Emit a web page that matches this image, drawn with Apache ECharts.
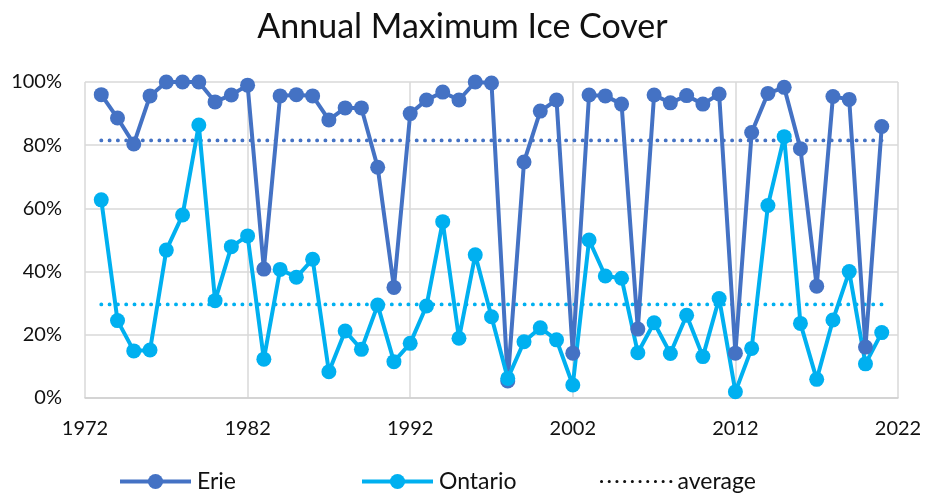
<!DOCTYPE html>
<html>
<head>
<meta charset="utf-8">
<script src="https://cdn.jsdelivr.net/npm/echarts@6/dist/echarts.min.js"></script>
<style>
  html, body { margin: 0; padding: 0; background: #fff; }
  #chart { width: 925px; height: 493px; }
</style>
</head>
<body>
<div id="chart"></div>
<script>
// Annual maximum ice cover (% of lake surface), 1973–2021
const years = [];
for (let y = 1973; y <= 2021; y++) years.push(y);

const erie = [
  96, 88.6, 80.4, 95.6, 100, 100, 100, 93.7, 95.9, 99,
  40.8, 95.6, 96, 95.6, 88, 91.8, 91.8, 73, 35, 90,
  94.3, 96.8, 94.3, 100, 99.7, 5.4, 74.7, 90.8, 94.3, 14.2,
  95.9, 95.6, 93, 21.8, 95.9, 93.4, 95.7, 93, 96.2, 14.2,
  84, 96.4, 98.3, 78.9, 35.4, 95.4, 94.5, 16.1, 85.9
];

const ontario = [
  62.7, 24.5, 14.9, 15.2, 46.8, 57.9, 86.4, 30.8, 47.9, 51.3,
  12.3, 40.7, 38.2, 43.9, 8.3, 21.2, 15.4, 29.4, 11.5, 17.3,
  29.1, 55.8, 18.9, 45.3, 25.7, 6.2, 17.8, 22.2, 18.4, 4.1,
  50, 38.6, 37.9, 14.3, 23.8, 14.1, 26.2, 13.1, 31.5, 2.0,
  15.7, 60.9, 82.7, 23.6, 5.9, 24.7, 40, 10.8, 20.7
];

// long-term averages
const erieAverage = 81.5;
const ontarioAverage = 29.6;

const xTicks = [1972, 1982, 1992, 2002, 2012, 2022];
const yTicks = [0, 20, 40, 60, 80, 100];

const ERIE_COLOR = '#4472C4';
const ONTARIO_COLOR = '#00B0F0';
const FONT = 'Lato, "Open Sans", sans-serif';

const pairs = (vals) => years.map((y, i) => [y, vals[i]]);
const flat = (v) => [[years[0], v], [years[years.length - 1], v]];

const chart = echarts.init(document.getElementById('chart'));

const legendBase = {
  top: 470,
  itemWidth: 71,
  itemHeight: 19,
  padding: 0,
  textStyle: { fontFamily: FONT, fontSize: 23, color: '#111', padding: [0, 0, 0, 1] },
  lineStyle: { width: 4 },
  selectedMode: false
};

chart.setOption({
  animation: false,
  backgroundColor: '#fff',
  title: {
    text: 'Annual Maximum Ice Cover',
    left: 'center',
    top: 10,
    padding: 0,
    textStyle: { fontFamily: FONT, fontSize: 34, fontWeight: 'normal', color: '#111' }
  },
  legend: [
    Object.assign({}, legendBase, { left: 118, data: ['Erie'] }),
    Object.assign({}, legendBase, { left: 360, data: ['Ontario'] }),
    Object.assign({}, legendBase, {
      left: 600,
      data: ['average'],
      itemWidth: 70,
      itemStyle: { opacity: 0 },
      lineStyle: { width: 3, type: [0.1, 7.6], cap: 'round', color: '#111' }
    })
  ],
  grid: { left: 85, right: 27, top: 82, bottom: 95 },
  xAxis: {
    type: 'value',
    min: xTicks[0],
    max: xTicks[xTicks.length - 1],
    interval: 10,
    axisLine: { lineStyle: { color: '#d0d0d0', width: 1.5 } },
    axisTick: { show: false },
    axisLabel: {
      fontFamily: FONT, fontSize: 20, color: '#111', margin: 21,
      formatter: (v) => String(v)
    },
    splitLine: { show: true, lineStyle: { color: '#d9d9d9', width: 1.5 } }
  },
  yAxis: {
    type: 'value',
    min: yTicks[0],
    max: yTicks[yTicks.length - 1],
    interval: 20,
    axisLine: { show: false },
    axisTick: { show: false },
    axisLabel: {
      fontFamily: FONT, fontSize: 20, color: '#111', margin: 23,
      formatter: (v) => v + '%'
    },
    splitLine: { lineStyle: { color: '#d9d9d9', width: 1.5 } }
  },
  series: [
    {
      name: 'Erie average', type: 'line', data: flat(erieAverage),
      symbol: 'none', silent: true,
      lineStyle: { color: ERIE_COLOR, width: 3.8, type: [0.1, 8.2], cap: 'round' }
    },
    {
      name: 'Ontario average', type: 'line', data: flat(ontarioAverage),
      symbol: 'none', silent: true,
      lineStyle: { color: ONTARIO_COLOR, width: 3.8, type: [0.1, 8.2], cap: 'round' }
    },
    {
      name: 'Erie', type: 'line', data: pairs(erie),
      symbol: 'circle', symbolSize: 15,
      itemStyle: { color: ERIE_COLOR },
      lineStyle: { color: ERIE_COLOR, width: 4 }
    },
    {
      name: 'Ontario', type: 'line', data: pairs(ontario),
      symbol: 'circle', symbolSize: 15,
      itemStyle: { color: ONTARIO_COLOR },
      lineStyle: { color: ONTARIO_COLOR, width: 4 }
    },
    {
      // legend entry for the dotted average lines
      name: 'average', type: 'line', data: [],
      symbol: 'none',
      itemStyle: { color: '#111' },
      lineStyle: { color: '#111', width: 3, type: [0.1, 7.6], cap: 'round' }
    }
  ]
});
</script>
</body>
</html>
